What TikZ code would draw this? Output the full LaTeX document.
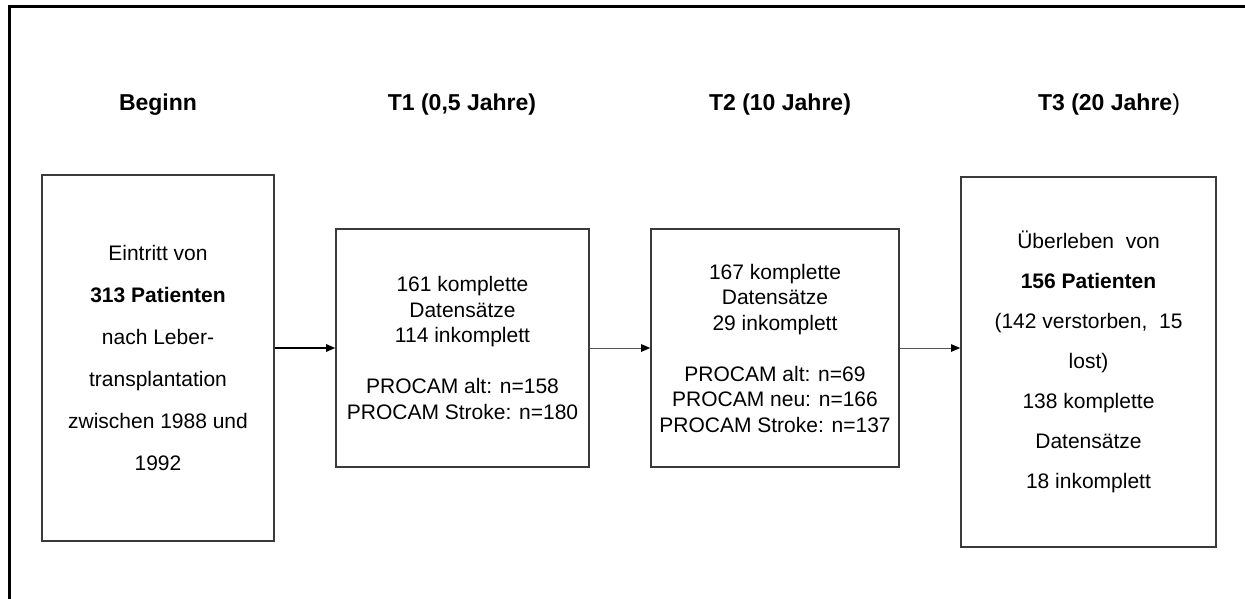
\documentclass[tikz,border=0pt]{standalone}
\usepackage{fontspec}
\setmainfont{Liberation Sans}
\usetikzlibrary{arrows.meta}
\definecolor{boxgray}{HTML}{3A3A3A}
\definecolor{arrgray}{HTML}{555555}
\tikzset{
  stagebox/.style={draw=boxgray, line width=1.6pt, align=center, inner sep=0pt, text=black},
  stagetitle/.style={font=\fontsize{23}{27}\selectfont\bfseries, anchor=base},
  flow/.style={-{Triangle[length=9pt,width=7.5pt,fill=black,color=black]}, line width=0.9pt, draw=arrgray},
}
\begin{document}
\begin{tikzpicture}[x=1pt,y=-1pt]
\useasboundingbox (0,0) rectangle (1245,598);
\clip (0,0) rectangle (1245,598);
\fill[white] (0,0) rectangle (1245,598);
\draw[line width=3pt, black] (9,610) -- (9,6) -- (1260,6);

\node[stagetitle] (t0) at (158,110) {Beginn};
\node[stagetitle] (t1) at (462,110) {T1 (0,5 Jahre)};
\node[stagetitle] (t2) at (780,110) {T2 (10 Jahre)};
\node[stagetitle] (t3) at (1109,110) {T3 (20 Jahre\mdseries)};

\node[stagebox, minimum width=232pt, minimum height=366pt,
      font=\fontsize{21}{42}\selectfont] (b0) at (158,358)
  {Eintritt von\\ \textbf{313 Patienten}\\ nach Leber-\\ transplantation\\ zwischen 1988 und\\ 1992};

\node[stagebox, minimum width=253pt, minimum height=238pt,
      font=\fontsize{21}{25.5}\selectfont] (b1) at (462.5,348)
  {161 komplette\\ Datensätze\\ 114 inkomplett\\[25.5pt] PROCAM alt: n=158\\ PROCAM Stroke: n=180};

\node[stagebox, minimum width=248pt, minimum height=238pt,
      font=\fontsize{21}{25.5}\selectfont] (b2) at (775,348)
  {167 komplette\\ Datensätze\\ 29 inkomplett\\[25.5pt] PROCAM alt: n=69\\ PROCAM neu: n=166\\ PROCAM Stroke: n=137};

\node[stagebox, minimum width=255pt, minimum height=370pt,
      font=\fontsize{21}{40}\selectfont] (b3) at (1088.5,362)
  {Überleben~ von\\ \textbf{156 Patienten}\\ (142 verstorben,~ 15\\ lost)\\ 138 komplette\\ Datensätze\\ 18 inkomplett};

\draw[flow, line width=1.4pt, draw=black] (b0.east |- b1.west) -- (b1.west);
\draw[flow] (b1.east) -- (b2.west);
\draw[flow] (b2.east) -- (b3.west |- b2.east);
\end{tikzpicture}
\end{document}
